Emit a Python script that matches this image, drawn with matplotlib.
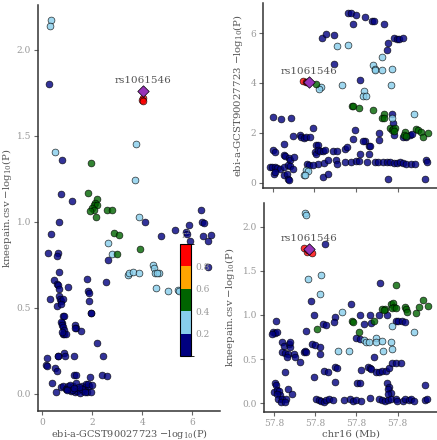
import matplotlib
matplotlib.use("Agg")
import matplotlib.pyplot as plt
from matplotlib.colors import ListedColormap, BoundaryNorm
from matplotlib.cm import ScalarMappable
from matplotlib.ticker import FormatStrFormatter

plt.rcParams['font.family'] = ['DejaVu Serif']
plt.rcParams['mathtext.fontset'] = 'dejavuserif'

# r2 colour bins
r2_bounds = [0, 0.2, 0.4, 0.6, 0.8, 1.0]
r2_colors = ['#000080', '#87CEEB', '#006400', '#FFA500', '#FF0000']
r2_ticks = [0.2, 0.4, 0.6, 0.8]
lead_snp = 'rs1061546'

# ---- left panel: ebi-a-GCST90027723 vs kneepain ----
sc_navy_ebi = [0.25, 0.77, 0.73, 1.18, 6.34, 6.40, 6.48, 4.11, 0.67, 0.34, 4.74, 5.31, 5.75, 5.78,
               5.88, 5.91, 6.42, 6.62, 6.75, 6.64, 2.61, 0.21, 0.61, 0.57, 0.67, 0.31, 0.48, 0.57,
               0.64, 0.67, 1.04, 0.68, 0.71, 0.75, 0.84, 0.57, 0.75, 1.80, 1.81, 1.87, 1.88, 1.93,
               2.54, 0.84, 0.88, 0.77, 0.75, 0.79, 0.84, 0.87, 0.81, 0.88, 0.95, 0.77, 1.29, 1.35,
               1.31, 1.55, 1.95, 2.17, 0.17, 0.15, 0.20, 0.61, 0.64, 0.88, 0.91, 1.28, 0.51, 0.57,
               0.37, 2.41, 2.40, 2.60, 1.27, 1.33, 1.91, 0.55, 0.73, 0.84, 0.93, 1.04, 1.13, 1.21,
               1.31, 1.40, 1.48, 1.57, 1.64, 1.72, 1.80, 1.88, 1.96, 1.75, 1.84, 1.00, 1.10, 1.20,
               1.50, 1.60, 1.70, 1.35, 1.45, 2.00, 1.25, 0.98]
sc_navy_knee = [1.80, 1.36, 1.16, 1.12, 1.066, 1.00, 0.99, 1.00, 1.00, 0.93, 0.92, 0.95, 0.94, 0.93,
                0.98, 0.89, 0.916, 0.89, 0.924, 0.736, 0.775, 0.82, 0.82, 0.80, 0.71, 0.55, 0.66, 0.64,
                0.63, 0.61, 0.62, 0.57, 0.55, 0.54, 0.55, 0.51, 0.52, 0.67, 0.595, 0.585, 0.54, 0.467,
                0.65, 0.455, 0.45, 0.41, 0.42, 0.40, 0.39, 0.37, 0.35, 0.35, 0.35, 0.36, 0.40, 0.385,
                0.38, 0.364, 0.467, 0.295, 0.21, 0.165, 0.16, 0.22, 0.22, 0.24, 0.22, 0.22, 0.15, 0.13,
                0.06, 0.22, 0.107, 0.103, 0.11, 0.11, 0.095, 0.01, 0.04, 0.045, 0.025, 0.045, 0.016, 0.045,
                0.01, 0.016, 0.029, 0.048, 0.016, 0.039, 0.01, 0.045, 0.01, 0.058, 0.058, 0.03, 0.05, 0.02,
                0.005, 0.03, 0.01, 0.06, 0.04, 0.05, 0.035, 0.02]
sc_lb_ebi = [0.33, 0.31, 0.51, 3.76, 3.71, 3.88, 2.61, 2.77, 3.44, 3.48, 3.64, 3.88, 4.44, 4.47,
             4.51, 4.68, 4.57, 4.54, 5.02, 5.42, 5.48]
sc_lb_knee = [2.17, 2.14, 1.405, 1.45, 1.24, 1.03, 0.876, 0.81, 0.69, 0.70, 0.71, 0.70, 0.746, 0.73,
              0.70, 0.70, 0.70, 0.616, 0.60, 0.605, 0.60]
sc_green_ebi = [1.95, 1.84, 2.17, 2.11, 2.07, 2.17, 1.97, 2.07, 1.91, 2.15, 2.57, 2.77, 2.87, 3.08, 3.00, 3.92]
sc_green_knee = [1.34, 1.17, 1.13, 1.11, 1.10, 1.10, 1.08, 1.07, 1.06, 1.03, 1.07, 1.07, 0.936, 0.924, 0.814, 0.839]
sc_red_ebi = [4.01, 4.00, 4.01]
sc_red_knee = [1.72, 1.71, 1.70]
sc_lead_ebi = 4.04
sc_lead_knee = 1.76

# ---- top right: ebi-a-GCST90027723 along chr16 ----
ebi_navy_pos = [57.7963, 57.7974, 57.8000, 57.8043, 57.8075, 57.8086, 57.8134, 57.7984, 57.7835, 57.7856,
                57.7896, 57.8154, 57.8182, 57.8195, 57.8208, 57.8227, 57.8147, 57.7894, 57.8019, 57.7600,
                57.7638, 57.7688, 57.8174, 57.8179, 57.8184, 57.8224, 57.8243, 57.8259, 57.8272, 57.7696,
                57.7728, 57.7736, 57.7750, 57.7760, 57.7792, 57.7779, 57.7808, 57.7819, 57.7995, 57.7987,
                57.8042, 57.8032, 57.8064, 57.8067, 57.8112, 57.8112, 57.7600, 57.7611, 57.7654, 57.7651,
                57.7659, 57.7675, 57.7683, 57.7699, 57.7803, 57.7808, 57.7819, 57.7827, 57.7843, 57.7851,
                57.7891, 57.7907, 57.7947, 57.7955, 57.7902, 57.7907, 57.8019, 57.8064, 57.7947, 57.7976,
                57.8000, 57.8016, 57.8051, 57.8091, 57.8107, 57.8128, 57.8147, 57.8166, 57.8182, 57.8195,
                57.8211, 57.8227, 57.8243, 57.8267, 57.8283, 57.8336, 57.8342, 57.7763, 57.7774, 57.7819,
                57.7848, 57.7864, 57.7792, 57.7587, 57.7595, 57.7611, 57.7619, 57.7635, 57.7651, 57.7670,
                57.7683, 57.7696, 57.7603, 57.7611, 57.7651, 57.7667, 57.7670, 57.7675, 57.7843, 57.7867,
                57.8155, 57.8331]
ebi_navy_val = [6.80, 6.80, 6.71, 6.64, 6.48, 6.48, 6.37, 6.37, 5.80, 5.97,
                5.93, 5.61, 5.79, 5.76, 5.75, 5.81, 5.33, 4.77, 4.11, 2.64,
                2.55, 2.61, 2.77, 2.40, 1.92, 1.84, 1.84, 1.91, 1.95, 1.87,
                1.93, 1.84, 1.81, 1.84, 2.20, 1.84, 1.53, 1.51, 2.11, 1.77,
                1.68, 1.67, 1.48, 1.47, 2.00, 1.71, 1.31, 1.24, 1.55, 1.11,
                1.08, 1.01, 0.93, 1.04, 1.24, 1.15, 1.31, 1.28, 1.28, 1.31,
                1.28, 1.28, 1.37, 1.44, 0.93, 0.77, 1.17, 1.17, 0.84, 0.84,
                0.87, 0.87, 0.84, 0.84, 0.84, 0.84, 0.84, 0.84, 0.80, 0.80,
                0.84, 0.80, 0.77, 0.77, 0.77, 0.93, 0.84, 0.77, 0.71, 0.75,
                0.80, 0.93, 0.71, 0.64, 0.64, 0.64, 0.61, 0.57, 0.64, 0.73,
                0.67, 0.57, 0.37, 0.44, 0.31, 0.35, 0.17, 0.11, 0.24, 0.37,
                0.17, 0.15]
ebi_lb_pos = [57.7910, 57.7960, 57.8125, 57.8080, 57.8091, 57.8093, 57.8123, 57.8171, 57.7832, 57.7824,
              57.7931, 57.8040, 57.8035, 57.8046, 57.8170, 57.8171, 57.8280, 57.7760, 57.7770, 57.7750,
              57.7754]
ebi_lb_val = [5.47, 5.53, 5.04, 4.73, 4.56, 4.51, 4.51, 4.57, 3.84, 3.75,
              3.91, 3.67, 3.49, 3.48, 3.91, 2.61, 2.77, 0.51, 0.48, 0.33,
              0.31]
ebi_green_pos = [57.7808, 57.7979, 57.7987, 57.8013, 57.8083, 57.8133, 57.8123, 57.8136, 57.8163, 57.8171,
                 57.8179, 57.8187, 57.8182, 57.8238, 57.8232, 57.8243, 57.8288, 57.8299, 57.8315, 57.8323,
                 57.8347]
ebi_green_val = [3.95, 3.09, 3.07, 3.01, 2.91, 2.75, 2.60, 2.61, 2.20, 2.13,
                 2.17, 2.20, 2.08, 2.04, 1.91, 1.87, 2.17, 2.11, 2.04, 1.84,
                 2.01]
ebi_red_pos = [57.7747, 57.7760, 57.7765]
ebi_red_val = [4.07, 4.03, 4.05]
ebi_lead_pos = 57.7773
ebi_lead_val = 4.05

# ---- bottom right: kneepain along chr16 ----
knee_navy_pos = [57.7848, 57.7779, 57.7792, 57.7755, 57.7837, 57.7853, 57.7898, 57.7893, 57.7973, 57.8018,
                 57.8064, 57.8037, 57.8069, 57.8109, 57.8146, 57.8189, 57.8203, 57.8219, 57.8234, 57.7608,
                 57.7597, 57.7605, 57.7613, 57.7590, 57.8000, 57.8018, 57.8114, 57.7640, 57.7651, 57.7672,
                 57.7677, 57.7640, 57.7653, 57.7669, 57.7664, 57.7696, 57.7704, 57.7680, 57.7744, 57.7750,
                 57.7757, 57.7786, 57.7797, 57.7821, 57.7824, 57.7728, 57.7654, 57.7845, 57.7861, 57.7794,
                 57.7898, 57.7898, 57.7904, 57.8024, 57.8058, 57.8064, 57.8069, 57.8093, 57.8109, 57.8125,
                 57.8144, 57.8157, 57.8173, 57.8192, 57.8218, 57.8002, 57.8016, 57.8149, 57.8157, 57.8152,
                 57.8165, 57.8154, 57.8330, 57.7605, 57.7608, 57.7602, 57.7616, 57.7626, 57.7629, 57.7613,
                 57.7669, 57.7690, 57.7621, 57.7640, 57.7658, 57.7632, 57.7654, 57.8086,
                 57.7805, 57.7818, 57.7829, 57.7842, 57.7853, 57.7869, 57.7888, 57.7941, 57.7968, 57.7981,
                 57.8000, 57.8024, 57.8066, 57.8109, 57.8122, 57.8138, 57.8154, 57.8165, 57.8189, 57.8197,
                 57.8224, 57.8237, 57.8253, 57.8266, 57.8277, 57.8333, 57.8341]
knee_navy_val = [1.800, 1.162, 1.000, 0.819, 0.894, 0.887, 0.981, 0.917, 1.125, 1.000,
                 1.000, 0.894, 0.906, 1.000, 1.000, 0.936, 0.936, 0.936, 0.925, 0.932,
                 0.811, 0.792, 0.811, 0.781, 0.736, 0.725, 1.358, 0.691, 0.653, 0.668,
                 0.642, 0.585, 0.566, 0.558, 0.528, 0.555, 0.525, 0.691, 0.585, 0.596,
                 0.577, 0.672, 0.660, 0.642, 0.555, 0.464, 0.358, 0.366, 0.358, 0.294,
                 0.238, 0.415, 0.396, 0.377, 0.408, 0.396, 0.385, 0.358, 0.358, 0.366,
                 0.370, 0.396, 0.460, 0.453, 0.460, 0.234, 0.226, 0.226, 0.189, 0.166,
                 0.121, 0.102, 0.208, 0.226, 0.208, 0.132, 0.151, 0.140, 0.094, 0.102,
                 0.158, 0.106, 0.045, 0.053, 0.045, 0.008, 0.008, 0.528,
                 0.045, 0.038, 0.026, 0.019, 0.038, 0.049, 0.038, 0.038, 0.045, 0.026,
                 0.038, 0.030, 0.057, 0.049, 0.038, 0.026, 0.038, 0.049, 0.045, 0.026,
                 0.030, 0.045, 0.038, 0.053, 0.026, 0.038, 0.045]
knee_lb_pos = [57.7750, 57.7757, 57.7766, 57.7830, 57.7822, 57.7930, 57.8173, 57.8277, 57.8037, 57.8046,
               57.8061, 57.8093, 57.8096, 57.8125, 57.8168, 57.7909, 57.7962, 57.8128, 57.8173]
knee_lb_val = [2.151, 2.132, 1.404, 1.449, 1.234, 1.030, 0.875, 0.804, 0.717, 0.698,
               0.691, 0.743, 0.698, 0.709, 0.698, 0.596, 0.592, 0.596, 0.615]
knee_green_pos = [57.7808, 57.8013, 57.7978, 57.7984, 57.8083, 57.8125, 57.8138, 57.8131, 57.8165, 57.8176,
                  57.8181, 57.8170, 57.8189, 57.8234, 57.8240, 57.8243, 57.8189, 57.8288, 57.8301, 57.8320,
                  57.8344]
knee_green_val = [0.842, 0.811, 0.936, 0.921, 0.936, 1.068, 1.068, 1.057, 1.125, 1.132,
                  1.087, 1.075, 1.075, 1.094, 1.068, 1.030, 1.340, 1.026, 1.087, 1.170,
                  1.102]
knee_red_pos = [57.7747, 57.7760, 57.7766, 57.7784]
knee_red_val = [1.755, 1.717, 1.736, 1.698]
knee_lead_pos = 57.7771
knee_lead_val = 1.751

pos_ticks = [57.76, 57.78, 57.80, 57.82]

tick_col = '#999999'
label_col = '#555555'
pt = dict(s=24, edgecolors='black', linewidths=0.5, alpha=0.8)


def style(ax):
    for s in ['top', 'right']:
        ax.spines[s].set_visible(False)
    for s in ['left', 'bottom']:
        ax.spines[s].set_color('#333333')
        ax.spines[s].set_linewidth(1.1)
    ax.tick_params(direction='out', length=3, width=0.8, color='#666666',
                   labelcolor=tick_col, labelsize=6.5, pad=2)


def draw(ax, navy, lb, green, red, lead):
    ax.scatter(*navy, c=r2_colors[0], **pt)
    ax.scatter(*lb, c=r2_colors[1], **pt)
    ax.scatter(*green, c=r2_colors[2], **pt)
    ax.scatter(*red, c=r2_colors[4], **pt)
    ax.scatter(*lead, marker='D', s=34, c='#9632B8', edgecolors='black', linewidths=0.5, zorder=5)
    ax.annotate(lead_snp, lead, xytext=(0, 4), textcoords='offset points',
                ha='center', va='bottom', fontsize=7.5, color=label_col)


fig = plt.figure(figsize=(4.37, 4.40), dpi=100)

# left scatter
ax1 = fig.add_axes([38 / 437, 29 / 440, 182 / 437, 406 / 440])
draw(ax1, (sc_navy_ebi, sc_navy_knee), (sc_lb_ebi, sc_lb_knee), (sc_green_ebi, sc_green_knee),
     (sc_red_ebi, sc_red_knee), (sc_lead_ebi, sc_lead_knee))
ax1.set_xlim(-0.17, 7.1)
ax1.set_ylim(-0.1, 2.26)
ax1.set_xticks([0, 2, 4, 6])
ax1.set_yticks([0.0, 0.5, 1.0, 1.5, 2.0])
ax1.yaxis.set_major_formatter(FormatStrFormatter('%.1f'))
ax1.set_xlabel('ebi-a-GCST90027723 $-$log$_{10}$(P)', fontsize=7, color=label_col, labelpad=0)
ax1.set_ylabel('kneepain.csv $-$log$_{10}$(P)', fontsize=7.3, color=label_col, labelpad=2)
style(ax1)

# colour bar inside left panel
cax = fig.add_axes([180 / 437, 84 / 440, 11 / 437, 112 / 440])
cmap = ListedColormap(r2_colors)
norm = BoundaryNorm(r2_bounds, cmap.N)
cb = fig.colorbar(ScalarMappable(norm=norm, cmap=cmap), cax=cax, ticks=r2_ticks)
cb.outline.set_edgecolor('black')
cb.outline.set_linewidth(0.8)
cax.tick_params(length=0, labelcolor=tick_col, labelsize=6.5, pad=3)
cax.yaxis.set_major_formatter(FormatStrFormatter('%.1f'))
cax.text(0.5, 1.03, 'r$^2$', transform=cax.transAxes, ha='center', va='bottom',
         fontsize=6.5, color=tick_col)

# top right: ebi along chromosome
ax2 = fig.add_axes([263 / 437, 252 / 440, 174 / 437, 185 / 440])
draw(ax2, (ebi_navy_pos, ebi_navy_val), (ebi_lb_pos, ebi_lb_val), (ebi_green_pos, ebi_green_val),
     (ebi_red_pos, ebi_red_val), (ebi_lead_pos, ebi_lead_val))
ax2.set_xlim(57.7552, 57.839)
ax2.set_ylim(-0.2, 7.2)
ax2.set_xticks(pos_ticks)
ax2.set_xticklabels([])
ax2.set_yticks([0, 2, 4, 6])
ax2.set_ylabel('ebi-a-GCST90027723 $-$log$_{10}$(P)', fontsize=7.3, color=label_col, labelpad=4)
style(ax2)

# bottom right: kneepain along chromosome
ax3 = fig.add_axes([264 / 437, 28 / 440, 173 / 437, 209 / 440])
draw(ax3, (knee_navy_pos, knee_navy_val), (knee_lb_pos, knee_lb_val), (knee_green_pos, knee_green_val),
     (knee_red_pos, knee_red_val), (knee_lead_pos, knee_lead_val))
ax3.set_xlim(57.7552, 57.839)
ax3.set_ylim(-0.1, 2.27)
ax3.set_xticks(pos_ticks)
ax3.xaxis.set_major_formatter(FormatStrFormatter('%.1f'))
ax3.set_yticks([0.0, 0.5, 1.0, 1.5, 2.0])
ax3.yaxis.set_major_formatter(FormatStrFormatter('%.1f'))
ax3.set_xlabel('chr16 (Mb)', fontsize=7.3, color=label_col, labelpad=1)
ax3.set_ylabel('kneepain.csv $-$log$_{10}$(P)', fontsize=7.3, color=label_col, labelpad=4)
style(ax3)

fig.savefig('out.png', dpi=100)
